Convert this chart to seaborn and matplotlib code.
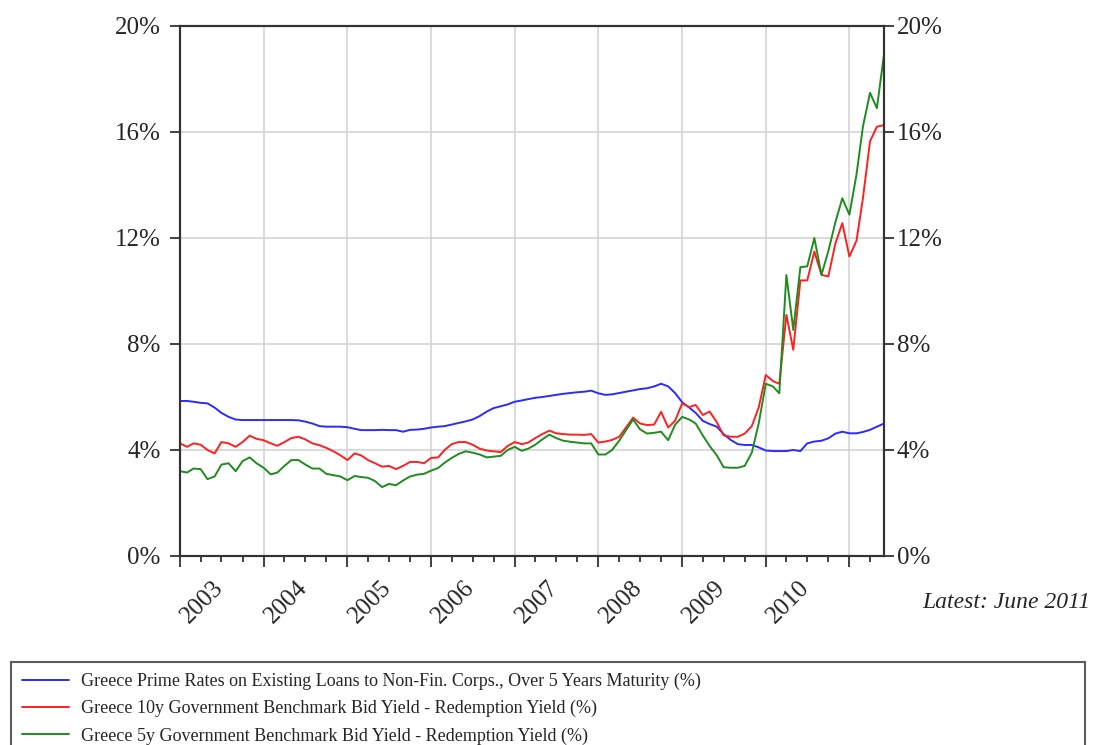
import numpy as np
import pandas as pd
import seaborn as sns
import matplotlib
matplotlib.use("Agg")
import matplotlib.pyplot as plt
import matplotlib.dates as mdates
from matplotlib.ticker import FuncFormatter, MultipleLocator

# monthly, Jan 2003 .. Jun 2011
months = pd.date_range("2003-01-01", "2011-06-01", freq="MS")

prime_rates = [
    5.85, 5.85, 5.82, 5.78, 5.76, 5.60, 5.40, 5.25, 5.15, 5.13, 5.13, 5.13,
    5.13, 5.13, 5.13, 5.13, 5.13, 5.12, 5.07, 5.00, 4.90, 4.88, 4.88, 4.88,
    4.86, 4.80, 4.75, 4.75, 4.75, 4.76, 4.75, 4.75, 4.69, 4.76, 4.77, 4.80,
    4.85, 4.88, 4.90, 4.96, 5.02, 5.08, 5.15, 5.28, 5.45, 5.58, 5.65, 5.72,
    5.82, 5.87, 5.92, 5.97, 6.00, 6.04, 6.08, 6.12, 6.15, 6.18, 6.20, 6.24,
    6.14, 6.08, 6.10, 6.15, 6.20, 6.25, 6.30, 6.33, 6.40, 6.50, 6.40, 6.15,
    5.80, 5.60, 5.40, 5.10, 4.98, 4.88, 4.60, 4.38, 4.22, 4.19, 4.19, 4.10,
    3.98, 3.96, 3.96, 3.96, 4.00, 3.96, 4.25, 4.32, 4.35, 4.44, 4.62, 4.69,
    4.63, 4.63, 4.68, 4.76, 4.88, 5.00,
]

yield_10y = [
    4.25, 4.12, 4.25, 4.20, 4.00, 3.87, 4.30, 4.25, 4.12, 4.30, 4.54, 4.42,
    4.37, 4.25, 4.16, 4.30, 4.45, 4.50, 4.40, 4.25, 4.18, 4.08, 3.95, 3.80,
    3.62, 3.87, 3.80, 3.62, 3.50, 3.37, 3.40, 3.28, 3.40, 3.55, 3.55, 3.50,
    3.70, 3.72, 4.00, 4.22, 4.30, 4.30, 4.20, 4.05, 3.98, 3.95, 3.92, 4.15,
    4.30, 4.22, 4.28, 4.45, 4.60, 4.73, 4.63, 4.60, 4.58, 4.58, 4.57, 4.60,
    4.28, 4.32, 4.38, 4.50, 4.85, 5.22, 5.00, 4.94, 4.96, 5.44, 4.85, 5.10,
    5.76, 5.62, 5.70, 5.32, 5.45, 5.05, 4.55, 4.50, 4.50, 4.62, 4.90, 5.60,
    6.83, 6.60, 6.50, 9.10, 7.78, 10.40, 10.40, 11.49, 10.61, 10.55, 11.80, 12.56,
    11.30, 11.90, 13.50, 15.65, 16.20, 16.26,
]

yield_5y = [
    3.20, 3.15, 3.30, 3.28, 2.90, 3.00, 3.45, 3.50, 3.20, 3.58, 3.72, 3.50,
    3.33, 3.08, 3.15, 3.40, 3.62, 3.62, 3.45, 3.30, 3.30, 3.10, 3.05, 3.00,
    2.86, 3.02, 2.98, 2.95, 2.83, 2.60, 2.72, 2.67, 2.85, 3.00, 3.07, 3.10,
    3.22, 3.32, 3.52, 3.70, 3.85, 3.95, 3.90, 3.83, 3.72, 3.75, 3.78, 4.00,
    4.12, 3.97, 4.05, 4.20, 4.40, 4.58, 4.45, 4.35, 4.31, 4.28, 4.25, 4.25,
    3.83, 3.83, 4.00, 4.35, 4.75, 5.15, 4.78, 4.62, 4.65, 4.69, 4.37, 4.95,
    5.25, 5.15, 5.00, 4.55, 4.15, 3.80, 3.35, 3.33, 3.33, 3.40, 3.90, 5.00,
    6.50, 6.40, 6.14, 10.60, 8.53, 10.90, 10.93, 12.00, 10.61, 11.50, 12.60, 13.50,
    12.88, 14.40, 16.20, 17.48, 16.90, 18.93,
]

series_names = [
    "Greece Prime Rates on Existing Loans to Non-Fin. Corps., Over 5 Years Maturity (%)",
    "Greece 10y Government Benchmark Bid Yield - Redemption Yield (%)",
    "Greece 5y Government Benchmark Bid Yield - Redemption Yield (%)",
]
series_colors = ["#2b2bff", "#ff2020", "#1e8c1e"]
year_labels = [2003, 2004, 2005, 2006, 2007, 2008, 2009, 2010]

df = pd.concat([
    pd.DataFrame({"date": months, "value": vals, "series": name})
    for name, vals in zip(series_names, [prime_rates, yield_10y, yield_5y])
])

sns.set_style("white")
plt.rcParams["font.family"] = ["Liberation Serif", "DejaVu Serif"]

fig = plt.figure(figsize=(10.95, 7.45), dpi=100)
ax = fig.add_axes([180 / 1095, 1 - 556 / 745, 704 / 1095, 530 / 745])

sns.lineplot(data=df, x="date", y="value", hue="series",
             palette=dict(zip(series_names, series_colors)),
             linewidth=1.4, ax=ax, legend=False)

ax.set_xlim(months[0], months[-1])
ax.set_ylim(0, 20)
ax.set_xlabel("")
ax.set_ylabel("")

pct = FuncFormatter(lambda v, p: f"{v:.0f}%")
ax.yaxis.set_major_locator(MultipleLocator(4))
ax.yaxis.set_major_formatter(pct)
ax.xaxis.set_major_locator(mdates.YearLocator())
ax.xaxis.set_minor_locator(mdates.MonthLocator(bymonth=(1, 4, 7, 10)))
ax.xaxis.set_major_formatter(plt.NullFormatter())

ax.grid(True, which="major", color="#d4d4d4", linewidth=1.2)
for s in ax.spines.values():
    s.set_color("#333333")
    s.set_linewidth(1.5)

ax.tick_params(axis="y", which="major", length=7, width=1.3, color="#333333",
               labelsize=18, pad=7, left=True, right=True,
               labelleft=True, labelright=False)
ax.tick_params(axis="x", which="major", length=8, width=1.3, color="#333333",
               bottom=True)
ax.tick_params(axis="x", which="minor", length=4.5, width=1.3, color="#333333",
               bottom=True)

ax2 = ax.twinx()
ax2.set_ylim(0, 20)
ax2.yaxis.set_major_locator(MultipleLocator(4))
ax2.yaxis.set_major_formatter(pct)
ax2.tick_params(axis="y", length=7, width=1.3, color="#333333",
                labelsize=18, pad=2)
for s in ax2.spines.values():
    s.set_color("#333333")
    s.set_linewidth(1.5)

# rotated year labels, sitting inside each year
for yr in year_labels:
    ax.annotate(str(yr), xy=(pd.Timestamp(f"{yr}-06-25"), 0), xycoords=("data", "axes fraction"),
                xytext=(0, -28), textcoords="offset pixels",
                rotation=45, rotation_mode="anchor", ha="right", va="center",
                fontsize=18)

fig.text(1090 / 1095, 1 - 603 / 745, "Latest: June 2011", ha="right", va="center",
         fontsize=17, style="italic")

handles = ax.get_lines()[:3]
leg = fig.legend(handles, series_names, loc="upper left",
                 bbox_to_anchor=(11 / 1095, 1 - 662 / 745, 1074 / 1095, 0.0),
                 mode="expand", fontsize=13, frameon=True, fancybox=False,
                 handlelength=2.6, handletextpad=0.65, labelspacing=0.55,
                 borderpad=0.6, borderaxespad=0.0)
leg.get_frame().set_edgecolor("#333333")
leg.get_frame().set_linewidth(1.5)

plt.savefig("out.png", dpi=100)
plt.close()
